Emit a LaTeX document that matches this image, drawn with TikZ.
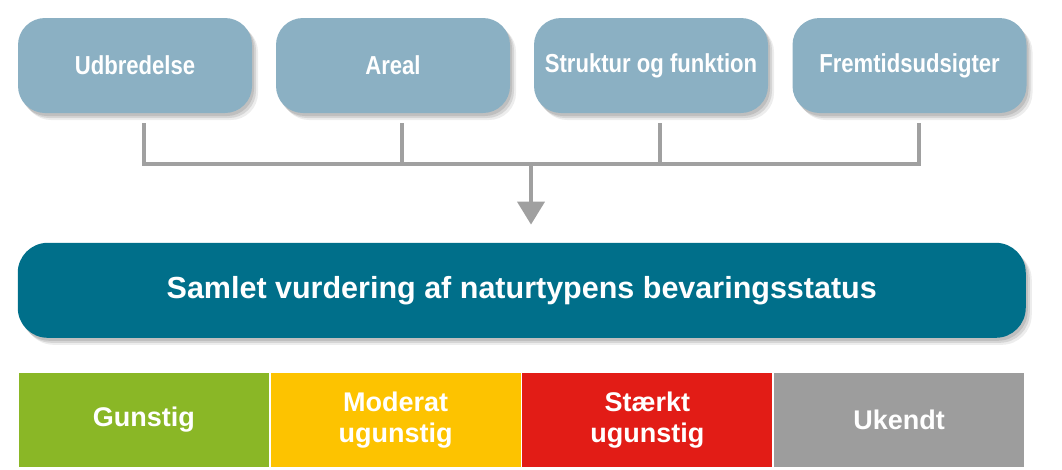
\documentclass[tikz,border=0pt]{standalone}
\usepackage{fontspec}
\setmainfont{Liberation Sans}
\newfontfamily\narrowfont[FakeStretch=0.85]{Liberation Sans}
\usetikzlibrary{shadows,arrows.meta,calc}
\definecolor{topblue}{RGB}{139,176,195}
\definecolor{teal}{RGB}{0,111,138}
\definecolor{cgreen}{RGB}{138,183,38}
\definecolor{cyellow}{RGB}{253,195,0}
\definecolor{cred}{RGB}{226,28,22}
\definecolor{cgray}{RGB}{157,157,157}
\definecolor{conngray}{RGB}{160,160,160}
\tikzset{
  softshadow/.style={
    general shadow={shadow xshift=2pt,shadow yshift=-3pt,fill=black,opacity=0.10},
    general shadow={shadow xshift=4pt,shadow yshift=-5pt,fill=black,opacity=0.10},
    general shadow={shadow xshift=6pt,shadow yshift=-7pt,fill=black,opacity=0.07}},
  topbox/.style={softshadow, rounded corners=27pt, fill=topblue, text=white,
    minimum width=234pt, minimum height=95pt, inner sep=0pt,
    font=\narrowfont\bfseries\fontsize{26}{30}\selectfont},
  bigbar/.style={softshadow, rounded corners=30pt, fill=teal, text=white,
    minimum width=1008pt, minimum height=95pt, inner sep=0pt,
    font=\bfseries\fontsize{30.5}{34}\selectfont},
  cell/.style={minimum width=250pt, minimum height=94pt, inner sep=0pt,
    text=white, align=center, font=\bfseries\fontsize{27}{31}\selectfont},
  conn/.style={draw=conngray, line width=4pt, line join=miter},
}
\begin{document}
\begin{tikzpicture}[x=1pt,y=-1pt]
\useasboundingbox (0,0) rectangle (1062,469);
\node[topbox] (b1) at (135,65.5) {Udbredelse};
\node[topbox] (b2) at (393,65.5) {Areal};
\node[topbox] (b3) at (651,65.5) {Struktur og funktion};
\node[topbox] (b4) at (909.5,65.5) {Fremtidsudsigter};
\node[bigbar] (big) at (521.75,290.3) {Samlet vurdering af naturtypens bevaringsstatus};
\node[cell, fill=cgreen] (c1) at (143.9,420) {Gunstig};
\node[cell, fill=cyellow] (c2) at (395.6,420) {Moderat\\ugunstig};
\node[cell, fill=cred] (c3) at (647.4,420) {Stærkt\\ugunstig};
\node[cell, fill=cgray] (c4) at (899.1,420) {Ukendt};
\coordinate (j) at (531,164);
\draw[conn] ([xshift=9pt,yshift=-10pt]b1.south) |- (j) -| ([xshift=9pt,yshift=-10pt]b4.south);
\draw[conn] ([xshift=9pt,yshift=-10pt]b2.south) -- ([xshift=9pt]b2.south |- j);
\draw[conn] ([xshift=9pt,yshift=-10pt]b3.south) -- ([xshift=9pt]b3.south |- j);
\draw[conn, -{Triangle[length=23pt,width=27pt]}, shorten >=18pt] ([yshift=2pt]j) -- (j |- big.north);
\end{tikzpicture}
\end{document}
